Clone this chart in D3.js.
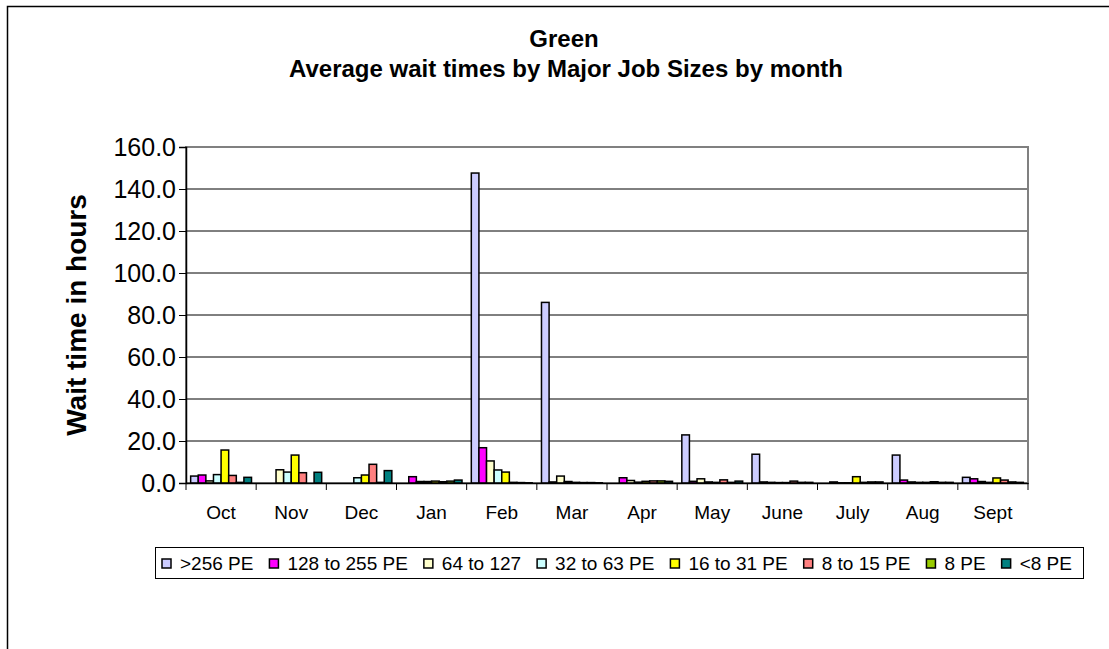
<!DOCTYPE html>
<html>
<head>
<meta charset="utf-8">
<script src="https://cdn.jsdelivr.net/npm/d3@7"></script>
<style>
  html, body { margin: 0; padding: 0; background: #fff; }
  svg { display: block; font-family: "Liberation Sans", Arial, sans-serif; }
</style>
</head>
<body>
<svg id="chart" width="1109" height="649"></svg>
<script>
// ---- Data ----
const months = ["Oct","Nov","Dec","Jan","Feb","Mar","Apr","May","June","July","Aug","Sept"];
const seriesNames = [">256 PE","128 to 255 PE","64 to 127","32 to 63 PE","16 to 31 PE","8 to 15 PE","8 PE","<8 PE"];
const pe256   = [3.3, 0,   0,   0,   147.6, 86.0, 0,   22.9, 13.7, 0,   13.3, 2.7];
const pe128   = [3.8, 0,   0,   3.0, 16.8,  0.5,  2.5, 0.8,  0.5,  0.5, 1.4,  2.0];
const pe64    = [1.0, 6.3, 0,   0.7, 10.5,  3.3,  1.2, 2.0,  0.3,  0.1, 0.5,  0.7];
const pe32    = [4.0, 5.2, 2.5, 0.7, 6.2,   0.7,  0.4, 0.5,  0.2,  0.1, 0.3,  0.3];
const pe16    = [15.7,13.3,3.8, 0.9, 5.2,   0.3,  0.8, 0.3,  0.2,  3.0, 0.3,  2.4];
const pe8to15 = [3.6, 4.9, 8.9, 0.6, 0.3,   0.2,  1.0, 1.5,  0.9,  0.3, 0.6,  1.4];
const pe8     = [0.3, 0,   0.3, 0.9, 0.2,   0.2,  1.0, 0.3,  0.3,  0.5, 0.3,  0.5];
const peLt8   = [2.7, 5.1, 5.9, 1.4, 0.1,   0.1,  0.8, 0.9,  0.3,  0.5, 0.3,  0.3];
const yTicks  = [0, 20, 40, 60, 80, 100, 120, 140, 160];
const colors  = ["#CCCCFF","#FF00FF","#FFFFCC","#CCFFFF","#FFFF00","#FF8080","#99CC00","#008080"];

const seriesValues = [pe256, pe128, pe64, pe32, pe16, pe8to15, pe8, peLt8];

// ---- Layout ----
const svg = d3.select("#chart");
const plot = { left: 186, right: 1028, top: 147, bottom: 483 };

// outer frame
svg.append("rect").attr("x", 7.5).attr("y", 6.5).attr("width", 1300).attr("height", 800)
  .attr("fill", "#fff").attr("stroke", "#000").attr("stroke-width", 1.5);

// titles
svg.append("text").attr("x", 564).attr("y", 47).attr("text-anchor", "middle")
  .attr("font-size", 24).attr("font-weight", "bold").text("Green");
svg.append("text").attr("x", 566).attr("y", 77).attr("text-anchor", "middle")
  .attr("font-size", 24).attr("font-weight", "bold").text("Average wait times by Major Job Sizes by month");

const x0 = d3.scaleBand().domain(months).range([plot.left, plot.right]).padding(0);
const groupGap = 9.3;
const x1 = d3.scaleBand().domain(seriesNames).range([groupGap / 2, x0.bandwidth() - groupGap / 2]).padding(0);
const y = d3.scaleLinear().domain([0, 160]).range([plot.bottom, plot.top]);

// gridlines
svg.append("g").selectAll("line").data(yTicks.filter(d => d > 0)).join("line")
  .attr("x1", plot.left).attr("x2", plot.right)
  .attr("y1", d => y(d)).attr("y2", d => y(d))
  .attr("stroke", "#000").attr("stroke-width", 1);

// plot area border
svg.append("rect").attr("x", plot.left).attr("y", plot.top)
  .attr("width", plot.right - plot.left).attr("height", plot.bottom - plot.top)
  .attr("fill", "none").attr("stroke", "#808080").attr("stroke-width", 2);

// bars
const groups = svg.append("g").selectAll("g").data(months).join("g")
  .attr("transform", d => `translate(${x0(d)},0)`);
groups.selectAll("rect")
  .data((m, i) => seriesValues.map((vals, s) => ({ s, v: vals[i] })))
  .join("rect")
  .filter(d => d.v > 0)
  .attr("x", d => x1(seriesNames[d.s]))
  .attr("width", x1.bandwidth())
  .attr("y", d => y(d.v))
  .attr("height", d => y(0) - y(d.v))
  .attr("fill", d => colors[d.s])
  .attr("stroke", "#000").attr("stroke-width", 1.5);

// y axis
const yAxis = d3.axisLeft(y).tickValues(yTicks).tickFormat(d3.format(".1f")).tickSize(7).tickPadding(3);
const gy = svg.append("g").attr("transform", `translate(${plot.left},0)`).call(yAxis);
gy.select(".domain").attr("stroke", "#000").attr("stroke-width", 1.5);
gy.selectAll(".tick line").attr("stroke", "#000");
gy.selectAll("text").attr("font-size", 25).attr("fill", "#000")
  .attr("font-family", "'Liberation Sans', Arial, sans-serif");

// x axis (ticks between categories)
const xAxis = d3.axisBottom(x0).tickSize(0).tickPadding(0);
const gx = svg.append("g").attr("transform", `translate(0,${plot.bottom})`).call(xAxis);
gx.select(".domain").attr("stroke", "#000").attr("stroke-width", 1.5);
gx.selectAll("text").attr("font-size", 19).attr("fill", "#000").attr("dy", 0).attr("y", 36)
  .attr("font-family", "'Liberation Sans', Arial, sans-serif");
const boundaries = months.map(m => x0(m)).concat([plot.right]);
svg.append("g").selectAll("line").data(boundaries).join("line")
  .attr("x1", d => d).attr("x2", d => d)
  .attr("y1", plot.bottom).attr("y2", plot.bottom + 7)
  .attr("stroke", "#000").attr("stroke-width", 1);

// y axis title
svg.append("text").attr("transform", `translate(86,${(plot.top + plot.bottom) / 2}) rotate(-90)`)
  .attr("text-anchor", "middle").attr("font-size", 28).attr("font-weight", "bold")
  .text("Wait time in hours");

// legend
const legend = svg.append("g");
legend.append("rect").attr("x", 155.5).attr("y", 547.5).attr("width", 928).attr("height", 31)
  .attr("fill", "#fff").attr("stroke", "#000").attr("stroke-width", 1);
let lx = 162;
seriesNames.forEach((name, i) => {
  legend.append("rect").attr("x", lx).attr("y", 559).attr("width", 9).attr("height", 9)
    .attr("fill", colors[i]).attr("stroke", "#000").attr("stroke-width", 1.5);
  const t = legend.append("text").attr("x", lx + 18).attr("y", 570).attr("font-size", 19).text(name);
  lx = lx + 18 + t.node().getComputedTextLength() + 16;
});
</script>
</body>
</html>
